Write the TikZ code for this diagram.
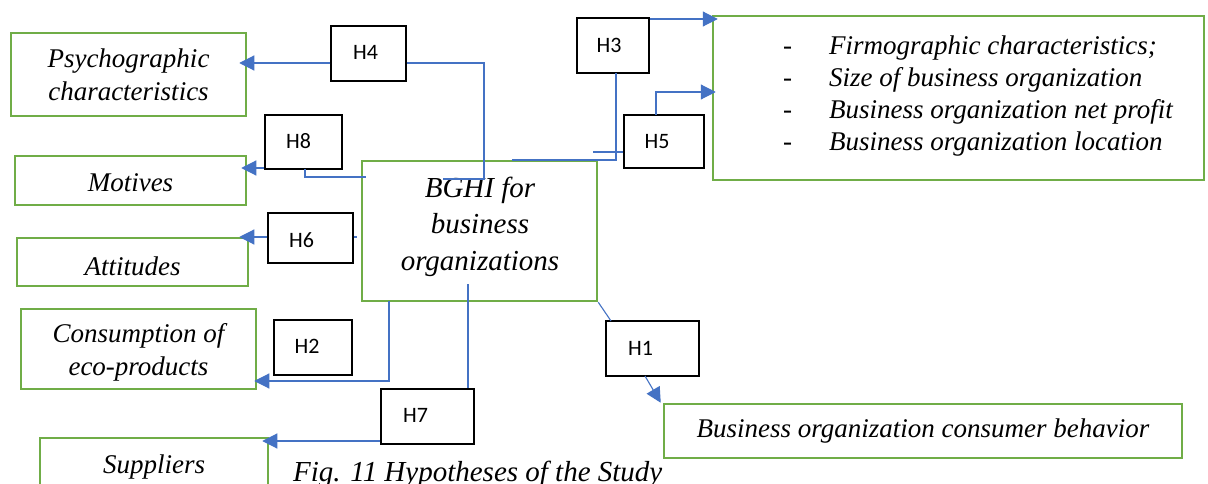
\documentclass[tikz,border=0pt]{standalone}
\usepackage{fontspec}
\setmainfont{Liberation Serif}
\newfontfamily\hfont{Carlito}
\usetikzlibrary{arrows.meta}
\definecolor{gr}{HTML}{70AD47}
\definecolor{bl}{HTML}{4472C4}
\begin{document}
\begin{tikzpicture}[x=1pt,y=-1pt,
  gbox/.style={draw=gr, line width=2.5pt, inner sep=0pt, align=center, font=\fontsize{27}{33}\selectfont\itshape},
  gtext/.style={inner sep=0pt, align=center, font=\fontsize{27}{33}\selectfont\itshape},
  hbox/.style={draw=black, line width=1.2pt, inner sep=0pt, fill=white},
  hlab/.style={font=\hfont\fontsize{22}{26}\selectfont, inner sep=0pt},
  conn/.style={draw=bl, line width=1.1pt},
  arr/.style={conn, -{Triangle[length=15pt,width=15pt]}},
]
\clip (0,0) rectangle (1208,484);
\fill[white] (0,0) rectangle (1208,484);

% green boxes
\node[gbox, minimum width=235, minimum height=83] (psy) at (128.5,74.5) {Psychographic\\characteristics};
\node[gbox, minimum width=231, minimum height=49] (mot) at (130.5,180.5) {};
\node[gtext] (mott) at (130.5,183) {Motives};
\node[gbox, minimum width=231, minimum height=48] (att) at (132.5,262) {};
\node[gtext] (attt) at (132.5,266) {Attitudes};
\node[gbox, minimum width=235, minimum height=80] (con) at (138.5,349) {};
\begin{scope}
  \clip (20,300) rectangle (260,380);
  \node[gtext] (cont) at (138.5,352.5) {Consumption of\\eco-products};
\end{scope}
\node[gbox, minimum width=228, minimum height=64] (sup) at (154,470) {};
\node[gtext] (supt) at (154,467) {Suppliers};
\node[gbox, minimum width=235, minimum height=140] (bghi) at (479.5,231) {};
\node[gtext, font=\fontsize{29}{36.5}\selectfont\itshape] (bghit) at (480,226.5) {BGHI for\\business\\organizations};
\node[gbox, minimum width=491, minimum height=164] (firm) at (958.5,98) {};
\node[gtext, anchor=west, align=left, font=\fontsize{27}{32}\selectfont\itshape] (firmt) at (783,96) {%
\makebox[46pt][l]{\upshape -}Firmographic characteristics;\\
\makebox[46pt][l]{\upshape -}Size of business organization\\
\makebox[46pt][l]{\upshape -}Business organization net profit\\
\makebox[46pt][l]{\upshape -}Business organization location};
\node[gbox, minimum width=518, minimum height=54] (cons) at (923,431) {Business organization consumer behavior};

% caption
\node[gtext, anchor=base west, font=\fontsize{29}{32}\selectfont\itshape] (cap) at (293,481) {Fig. 11 Hypotheses of the Study};

% H boxes
\node[hbox, minimum width=75, minimum height=55, label={[hlab,xshift=-3pt,yshift=1pt]center:H4}] (h4) at (368.5,53.5) {};
\node[hbox, minimum width=72, minimum height=55, label={[hlab,xshift=-4pt]center:H3}] (h3) at (613,45.5) {};
\node[hbox, minimum width=77, minimum height=54, label={[hlab,xshift=-5pt,yshift=1pt]center:H8}] (h8) at (303.5,142) {};
\node[hbox, minimum width=80, minimum height=53, label={[hlab,xshift=-7pt]center:H5}] (h5) at (664,141.5) {};
\node[hbox, minimum width=85, minimum height=50, label={[hlab,xshift=-9pt,yshift=-2pt]center:H6}] (h6) at (310.5,238) {};
\node[hbox, minimum width=78, minimum height=55, label={[hlab,xshift=-6pt,yshift=1pt]center:H2}] (h2) at (313,347.5) {};
\node[hbox, minimum width=93, minimum height=55, label={[hlab,xshift=-12pt,yshift=1pt]center:H7}] (h7) at (427.5,416.5) {};
\node[hbox, minimum width=93, minimum height=55, label={[hlab,xshift=-12pt]center:H1}] (h1) at (652.5,348.5) {};

% connectors
% H4
\draw[arr] (h4.west |- 0,63) -- ([xshift=-8pt]psy.east |- 0,63);
\draw[conn] (h4.east |- 0,63) -- (484,63) -- (484,179) -- (443,179);
% H3
\draw[conn] (616,73) -- (616,160) -- (512,160);
\draw[arr] (h3.east |- 0,19) -- ([xshift=6pt]firm.north west |- 0,19);
% H5
\draw[conn] (h5.west |- 0,152) -- (593,152);
\draw[arr] (656,115) -- (656,92) -- ([xshift=4pt]firm.west |- 0,92);
% H8
\draw[arr] (h8.west |- 0,168) -- ([xshift=-6pt]mot.east |- 0,168);
\draw[conn] (305,169) -- (305,177) -- (366,177);
% H6
\draw[arr] (h6.west |- 0,237) -- ([xshift=-10pt]att.east |- 0,237);
\draw[conn] (h6.east |- 0,237) -- (357,237);
% H2
\draw[arr] (389,301) -- (389,381) -- ([xshift=-3pt]con.east |- 0,381);
% H7
\draw[conn] (468,284) -- (h7.north -| 468,0);
\draw[arr] (h7.west |- 0,441) -- ([xshift=-7pt]sup.east |- 0,441);
% H1
\draw[conn] (bghi.south east) -- (611,321);
\draw[arr] (645,376) -- ([xshift=-2pt]cons.north west);
\end{tikzpicture}
\end{document}
